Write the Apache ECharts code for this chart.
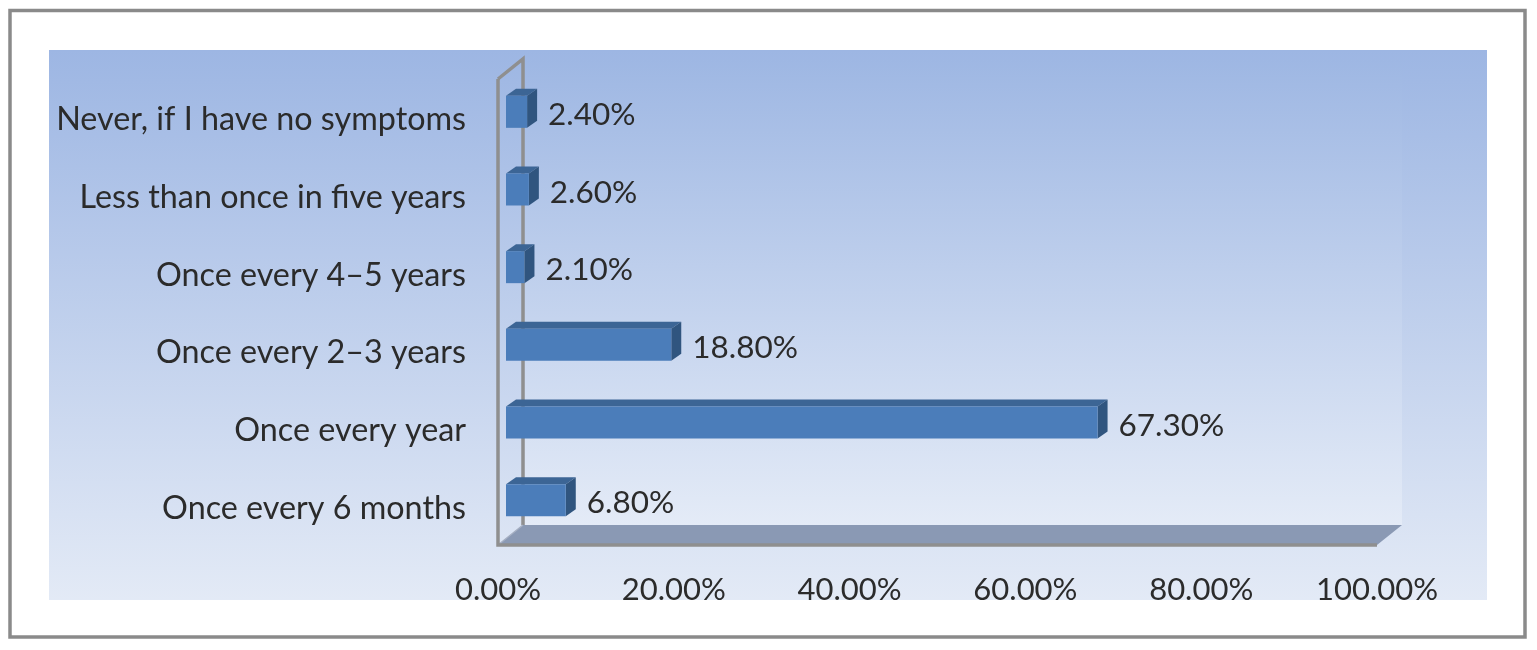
<!DOCTYPE html>
<html>
<head>
<meta charset="utf-8">
<style>html,body{margin:0;padding:0;background:#fff}#c{width:1537px;height:650px}</style>
<script src="https://cdn.jsdelivr.net/npm/echarts@6/dist/echarts.min.js"></script>
</head>
<body>
<div id="c"></div>
<script>
const categories = ['Once every 6 months','Once every year','Once every 2–3 years','Once every 4–5 years','Less than once in five years','Never, if I have no symptoms'];
const values = [6.8,67.3,18.8,2.1,2.6,2.4];
const xTicks = [0,20,40,60,80,100];

const FONT = 'Lato';
const TEXT = '#2b2b2b';
const LINE = '#8f8f8f';
const G = {left:498, top:79, width:879, height:466};
const WALL = {dx:25, dy:-20};
const BAR = {h:32, ox:8, oy:-6, dx:10, dy:-7};
const R = G.left+G.width, B = G.top+G.height;

function renderBar(params, api){
  const cat = api.value(0), val = api.value(1);
  const p0 = api.coord([0,cat]), p1 = api.coord([val,cat]);
  const x0 = p0[0]+BAR.ox, x1 = p1[0]+BAR.ox, y0 = p0[1]+BAR.oy-BAR.h/2, y1 = y0+BAR.h;
  return {type:'group',children:[
    {type:'polygon',shape:{points:[[x0,y0],[x1,y0],[x1+BAR.dx,y0+BAR.dy],[x0+BAR.dx,y0+BAR.dy]]},style:{fill:'#3c6595'}},
    {type:'polygon',shape:{points:[[x1,y0],[x1+BAR.dx,y0+BAR.dy],[x1+BAR.dx,y1+BAR.dy],[x1,y1]]},style:{fill:'#30557f'}},
    {type:'rect',shape:{x:x0,y:y0,width:x1-x0,height:BAR.h},style:{fill:'#4b7dba'}},
    {type:'text',style:{x:x1+BAR.dx+11,y:p0[1]-3,text:val.toFixed(2)+'%',fill:TEXT,font:'31.5px '+FONT,align:'left',verticalAlign:'middle'}}
  ]};
}

const chart = echarts.init(document.getElementById('c'),null,{renderer:'canvas'});
chart.setOption({
  animation:false,
  backgroundColor:'#fff',
  grid:{left:G.left,top:G.top,width:G.width,height:G.height,containLabel:false},
  xAxis:{type:'value',min:0,max:100,interval:20,
    axisLine:{show:false},axisTick:{show:false},splitLine:{show:false},
    axisLabel:{margin:29,color:TEXT,fontFamily:FONT,fontSize:31,lineHeight:32,
      customValues:xTicks,formatter:v=>v.toFixed(2)+'%'}},
  yAxis:{type:'category',data:categories,
    axisLine:{show:false},axisTick:{show:false},splitLine:{show:false},
    axisLabel:{margin:32,formatter:v=>'{a|'+v+'}',
      rich:{a:{color:TEXT,fontFamily:FONT,fontSize:32.3,lineHeight:40,padding:[4,0,0,0]}}}},
  graphic:{elements:[
    {type:'rect',z:-10,silent:true,shape:{x:10,y:10.5,width:1515,height:626.5},style:{fill:'#fff',stroke:'#8a8a8a',lineWidth:3.5}},
    {type:'rect',z:-9,silent:true,shape:{x:49,y:50,width:1438,height:550},
      style:{fill:new echarts.graphic.LinearGradient(0,0,0,1,[{offset:0,color:'#9db6e3'},{offset:1,color:'#e3eaf6'}])}},
    {type:'rect',z:-8,silent:true,shape:{x:G.left+WALL.dx,y:G.top+WALL.dy,width:G.width,height:G.height},
      style:{fill:new echarts.graphic.LinearGradient(0,0,0,1,[{offset:0,color:'#9eb7e3'},{offset:1,color:'#e4ebf7'}])}},
    {type:'polygon',z:-7,silent:true,shape:{points:[[G.left,B],[G.left+WALL.dx,B+WALL.dy],[R+WALL.dx,B+WALL.dy],[R,B]]},style:{fill:'#8a99b4'}},
    {type:'polyline',z:-6,silent:true,shape:{points:[[G.left+WALL.dx,B+WALL.dy],[G.left+WALL.dx,G.top+WALL.dy],[G.left,G.top]]},style:{fill:'none',stroke:LINE,lineWidth:3.5}},
    {type:'line',z:-6,silent:true,shape:{x1:G.left,y1:B,x2:G.left+WALL.dx,y2:B+WALL.dy},style:{stroke:'#a5afc2',lineWidth:1.5}},
    {type:'polyline',z:-5,silent:true,shape:{points:[[G.left,G.top],[G.left,B],[R,B]]},style:{fill:'none',stroke:LINE,lineWidth:3.5}}
  ]},
  series:[{type:'custom',coordinateSystem:'cartesian2d',renderItem:renderBar,
    encode:{x:1,y:0},clip:false,
    data:values.map((v,i)=>[i,v])}]
});
</script>
</body>
</html>
